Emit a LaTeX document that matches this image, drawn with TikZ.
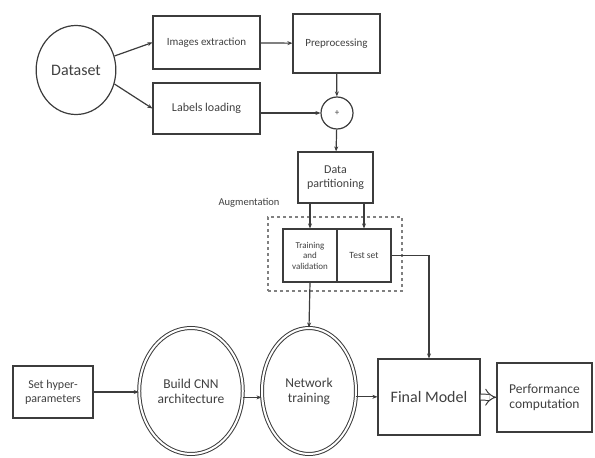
\documentclass[tikz,border=0pt]{standalone}
\usepackage{fontspec}
\setmainfont{Carlito}
\usetikzlibrary{shapes.geometric,arrows.meta}
\definecolor{linegray}{HTML}{3C3C3C}
\definecolor{textgray}{HTML}{404040}

\begin{document}
\begin{tikzpicture}[x=1pt,y=-1pt,
    box/.style={rectangle,draw=linegray,line width=1.2pt,align=center,inner sep=1pt,text=textgray},
    oval/.style={ellipse,draw=linegray,line width=1pt,double,double distance=2pt,align=center,text=textgray,
      minimum width=94pt,minimum height=126pt,font=\fontsize{13.5}{15}\selectfont},
    >={Stealth[length=5pt,width=4pt]}]
\useasboundingbox (0,0) rectangle (595,458);

% Input stage
\node[ellipse,draw=linegray,line width=1.2pt,minimum width=68pt,minimum height=89pt,text=textgray,
  font=\fontsize{16}{18}\selectfont] (dataset) at (76,70) {Dataset};
\node[box,minimum width=107pt,minimum height=53pt,font=\fontsize{11}{13}\selectfont] (images) at (206.5,42.5) {Images extraction};
\node[box,minimum width=87pt,minimum height=59pt,font=\fontsize{11}{13}\selectfont] (prep) at (336.5,43.5) {Preprocessing};
\node[box,minimum width=107pt,minimum height=51pt,font=\fontsize{12}{14}\selectfont] (labels) at (206.5,108.5) {Labels loading};
\node[circle,draw=linegray,line width=1.2pt,minimum size=32pt,inner sep=0pt,text=textgray,
  font=\fontsize{9}{10}\selectfont] (merge) at (337,113) {+};

% Partitioning
\node[box,minimum width=75pt,minimum height=51pt,font=\fontsize{12}{14}\selectfont] (partition) at (335.5,177.5) {Data\\partitioning};
\node[text=textgray,font=\fontsize{10.5}{12}\selectfont] (augment) at (249,203) {Augmentation};
\node[draw=gray,dashed,line width=1.2pt,minimum width=134pt,minimum height=74pt] (augframe) at (335,254) {};
\node[box,minimum width=54pt,minimum height=53pt,font=\fontsize{9}{10.5}\selectfont] (train) at (310,255.5) {Training\\and\\validation};
\node[box,minimum width=54pt,minimum height=53pt,font=\fontsize{9.5}{11}\selectfont] (test) at (364,255.5) {Test set};

% Model stage
\node[box,minimum width=80pt,minimum height=52pt,font=\fontsize{12}{14}\selectfont] (hyper) at (53,392) {Set hyper-\\parameters};
\node[oval] (build) at (191,391) {Build CNN\\architecture};
\node[oval] (network) at (309,391) {Network\\training};
\node[box,minimum width=102pt,minimum height=76pt,font=\fontsize{16}{18}\selectfont] (final) at (429,397) {Final Model};
\node[box,minimum width=95pt,minimum height=69pt,font=\fontsize{13.5}{15}\selectfont] (perf) at (544.5,397.5) {Performance\\computation};

% Connectors
\begin{scope}[draw=linegray,line width=1.2pt]
\draw[->] (dataset.20) -- (images.west);
\draw[->] (dataset.-20) -- (labels.west);
\draw[->] (images) -- (prep);
\draw[->] (prep) -- (merge);
\draw[->] (labels.east |- merge.west) -- (merge.west);
\draw[->] (merge) -- (partition);
\draw[->] (partition.south -| train.north) -- (train.north);
\draw[->] (partition.south -| test.north) -- (test.north);
\draw[->] (train.south) -- (network.north);
\draw[->] (test.east) -| (final.north);
\draw[->] (hyper.east) -- (hyper.east -| build.west);
\draw[->] (build.-7) -- (build.-7 -| network.west);
\draw[->] (network.-7) -- (network.-7 -| final.west);
\draw[-{Implies},double,double distance=5pt,line width=1pt] (final) -- (perf);
\end{scope}

\end{tikzpicture}
\end{document}
